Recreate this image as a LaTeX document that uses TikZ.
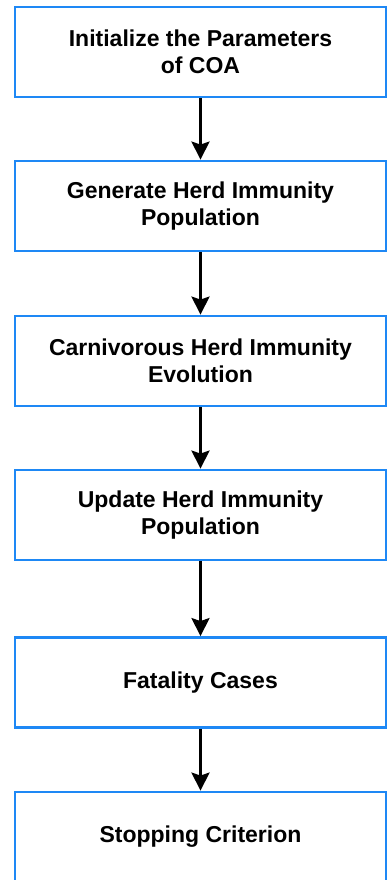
\documentclass[tikz,border=0pt]{standalone}
\usepackage{fontspec}
\setmainfont{Liberation Sans}
\usetikzlibrary{arrows.meta}
\definecolor{boxblue}{HTML}{1E88F5}

\begin{document}
\begin{tikzpicture}[
x=1pt, y=-1pt,
every node/.style={
draw=boxblue,
line width=2.8pt,
fill=white,
align=center,
inner sep=0pt,
minimum width=371pt,
minimum height=90pt,
font=\fontsize{23}{27.5}\selectfont\bfseries
}
]
\useasboundingbox (0,0) rectangle (389,880);

\node (I) at (200.5,52)
{Initialize the Parameters\\of COA};

\node (G) at (200.5,206)
{Generate Herd Immunity\\Population};

\node (C) at (200.5,361)
{Carnivorous Herd Immunity\\Evolution};

\node (U) at (200.5,515)
{Update Herd Immunity\\Population};

\node (F) at (200.5,682.5)
{Fatality Cases};

\node (S) at (200.5,837)
{Stopping Criterion};

\draw[line width=3pt,-{Stealth[length=18pt,width=18pt,inset=3pt]}] (I) -- (G);
\draw[line width=3pt,-{Stealth[length=18pt,width=18pt,inset=3pt]}] (G) -- (C);
\draw[line width=3pt,-{Stealth[length=18pt,width=18pt,inset=3pt]}] (C) -- (U);
\draw[line width=3pt,-{Stealth[length=18pt,width=18pt,inset=3pt]}] (U) -- (F);
\draw[line width=3pt,-{Stealth[length=18pt,width=18pt,inset=3pt]}] (F) -- (S);

\end{tikzpicture}
\end{document}
